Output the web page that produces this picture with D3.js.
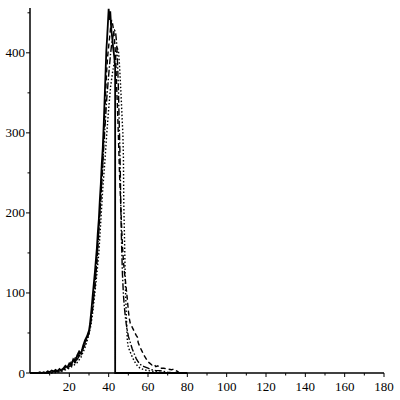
<!DOCTYPE html>
<html>
<head>
<meta charset="utf-8">
<script src="https://cdn.jsdelivr.net/npm/d3@7"></script>
<style>
  html, body { margin: 0; padding: 0; background: #fff; }
  svg text { font-family: "Liberation Serif", "DejaVu Serif", serif; font-size: 13px; fill: #000; }
</style>
</head>
<body>
<div id="chart"></div>
<script>
// four noisy distributions, [x, count] pairs
const solidSeries = [[0,0],[4,0],[5,1],[6,0],[7,1],[8,0],[9,2],[10,1],[11,3],[12,2],[13,4],[14,2],[15,5],[16,3],[17,6],[18,9],[19,7],[20,12],[21,10],[22,17],[23,14],[24,22],[25,27],[26,24],[27,34],[28,41],[29,46],[30,53],[30.5,61],[31,73],[31.5,86],[32,100],[32.5,113],[33,126],[33.5,141],[34,156],[34.5,176],[35,192],[35.5,216],[36,236],[36.5,262],[37,281],[37.5,311],[38,346],[38.5,381],[38.8,402],[39.2,418],[39.6,436],[40,455],[40.4,441],[40.8,452],[41.3,430],[41.8,419],[42.3,406],[42.8,396],[43.3,382],[43.3,0],[80,0]];
const dashedSeries = [[0,0],[8,0],[9,1],[11,2],[13,2],[15,4],[17,5],[19,8],[20,10],[21,14],[22,13],[23,19],[24,18],[25,24],[26,27],[27,31],[28,38],[29,44],[30,52],[31,66],[32,86],[33,108],[34,138],[35,175],[36,218],[37,258],[37.5,298],[38,322],[38.5,352],[39,378],[39.5,396],[40,408],[40.5,420],[41,432],[41.5,441],[42,436],[42.5,428],[43,415],[43.5,398],[44,362],[44.5,330],[45,292],[45.5,250],[46,218],[46.5,188],[47,160],[47.5,140],[48,126],[48.5,116],[49,104],[49.5,92],[50,78],[50.5,68],[51,62],[51.5,60],[52,57],[53,52],[54,47],[54.6,45],[55,38],[56,32],[57,27],[58,22],[59,18],[60,14],[61,12],[62,10],[63,11],[64,8],[65,9],[66,6],[68,6],[70,5],[72,4],[73,5],[74,3],[75,2],[76,0]];
const dashDotSeries = [[0,0],[10,0],[12,1],[14,2],[16,3],[18,5],[20,8],[22,11],[24,17],[26,25],[28,36],[30,50],[31,64],[32,84],[33,110],[34,142],[35,180],[36,220],[37,262],[38,302],[39,342],[40,372],[41,400],[41.5,410],[42,418],[42.5,424],[43,428],[43.5,426],[44,414],[44.5,388],[45,352],[45.3,318],[45.6,290],[45.9,255],[46.1,220],[46.3,190],[46.6,158],[47,124],[47.5,98],[48,82],[48.5,70],[49,60],[50,46],[51,38],[52,30],[53,24],[54,18],[55,14],[56,11],[57,9],[58,8],[60,6],[62,4],[64,3],[66,3],[68,2],[70,1],[73,0]];
const dottedSeries = [[0,0],[12,0],[14,1],[16,2],[18,4],[20,6],[22,9],[24,13],[26,20],[28,32],[30,48],[31,60],[32,78],[33,100],[34,124],[35,150],[36,190],[37,230],[38,262],[39,298],[40,330],[41,358],[42,376],[43,390],[43.8,398],[44.5,405],[45,402],[45.5,385],[46,362],[46.4,342],[46.8,320],[47.2,300],[47.5,270],[47.6,240],[47.7,210],[48,175],[48.2,150],[48.4,120],[48.6,100],[49,70],[49.5,40],[50,32],[51,26],[52,20],[53,15],[54,11],[55,8],[56,6],[58,4],[60,3],[63,2],[66,1],[70,0]];

const xTicks = [20, 40, 60, 80, 100, 120, 140, 160, 180];
const yTicks = [0, 100, 200, 300, 400];

const W = 400, H = 400;
const svg = d3.select("#chart").append("svg").attr("width", W).attr("height", H);

const x = d3.scaleLinear().domain([0, 180]).range([30, 384]);
const y = d3.scaleLinear().domain([0, 456]).range([373, 8]);

// curves
const line = d3.line().x(d => x(d[0])).y(d => y(d[1]));
const styles = [
  { data: dottedSeries, dash: "1.5,2", w: 1.4 },
  { data: dashDotSeries, dash: "7,2,1.5,2", w: 1.4 },
  { data: dashedSeries, dash: "5,3", w: 1.4 },
  { data: solidSeries, dash: null, w: 1.8 },
];
styles.forEach(s => {
  svg.append("path")
    .datum(s.data)
    .attr("d", line)
    .attr("fill", "none")
    .attr("stroke", "#000")
    .attr("stroke-width", s.w)
    .attr("stroke-dasharray", s.dash);
});

// axes, Maple style, crossing at origin
const xAxis = svg.append("g").attr("transform", `translate(0,${y(0)})`);
xAxis.append("line").attr("x1", x(0)).attr("x2", x(180)).attr("stroke", "#000").attr("stroke-width", 1.5);
xAxis.selectAll(".minor").data(d3.range(10, 180, 20)).join("line")
  .attr("x1", d => x(d)).attr("x2", d => x(d)).attr("y1", 0).attr("y2", 2.5)
  .attr("stroke", "#000");
xAxis.selectAll(".major").data(xTicks).join("line")
  .attr("x1", d => x(d)).attr("x2", d => x(d)).attr("y1", 0).attr("y2", 4)
  .attr("stroke", "#000");
xAxis.selectAll("text").data(xTicks).join("text")
  .attr("x", d => x(d)).attr("y", 18)
  .attr("text-anchor", "middle")
  .text(d => d);

const yAxis = svg.append("g").attr("transform", `translate(${x(0)},0)`);
yAxis.append("line").attr("y1", y(0)).attr("y2", y(456)).attr("stroke", "#000").attr("stroke-width", 1.5);
yAxis.selectAll(".minor").data([50, 150, 250, 350, 450]).join("line")
  .attr("y1", d => y(d)).attr("y2", d => y(d)).attr("x1", 0).attr("x2", -2.5)
  .attr("stroke", "#000");
yAxis.selectAll(".major").data(yTicks).join("line")
  .attr("y1", d => y(d)).attr("y2", d => y(d)).attr("x1", 0).attr("x2", -4)
  .attr("stroke", "#000");
yAxis.selectAll("text").data(yTicks).join("text")
  .attr("x", -5).attr("y", d => y(d) + 4.5)
  .attr("text-anchor", "end")
  .text(d => d);
</script>
</body>
</html>
